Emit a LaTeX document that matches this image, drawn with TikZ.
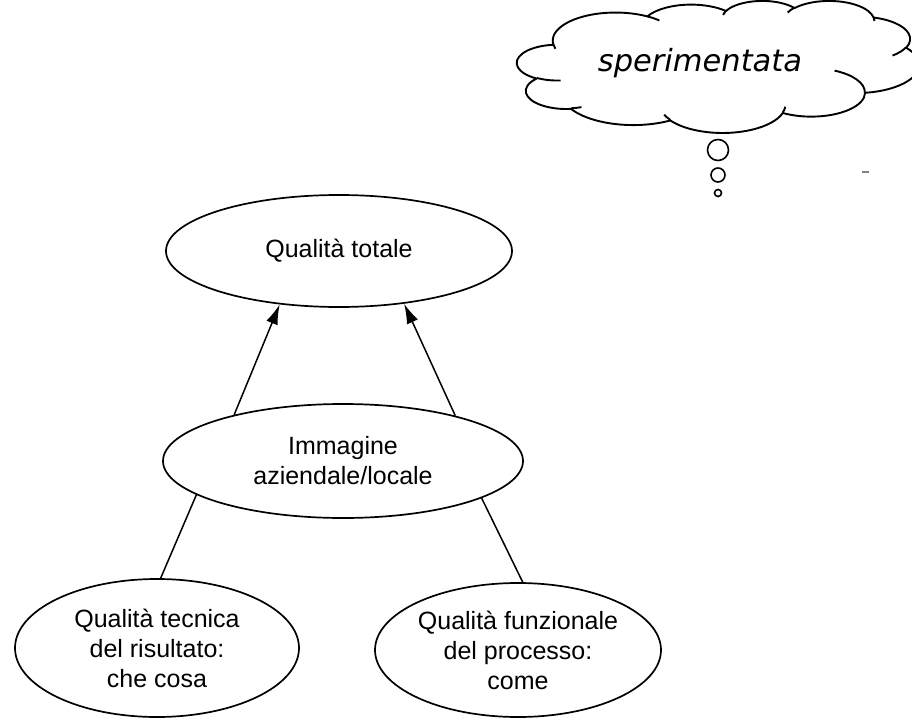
\documentclass[tikz,border=0pt]{standalone}
\usepackage{fontspec}
\setmainfont{Liberation Sans}
\newfontfamily\thoughtfont{DejaVu Sans}
\usetikzlibrary{shapes.geometric,arrows.meta}

% One puff of the cloud outline: elliptical arc with radii #1,#2, starting at
% the point seen at angle #3 from its centre and sweeping #4 degrees.
\newcommand\puffarc[4]{%
  arc[start angle={atan2((#1)*sin(#3),(#2)*cos(#3))},
      delta angle={mod(atan2((#1)*sin((#3)+(#4)),(#2)*cos((#3)+(#4)))
                   -atan2((#1)*sin(#3),(#2)*cos(#3))+720,360)},
      x radius=#1, y radius=#2]}

\tikzset{
  quality/.style={ellipse, draw, line width=1.7pt, inner sep=0pt,
    align=center, font=\fontsize{25}{30}\selectfont},
  link/.style={line width=1.5pt},
  uplink/.style={link, -{Latex[length=20pt,width=12pt]}},
  puff/.style={circle, draw, line width=1.6pt, inner sep=0pt},
  cloudline/.style={line width=1.9pt, line join=round}
}

\begin{document}
\begin{tikzpicture}[x=1pt,y=-1pt]
  \useasboundingbox (0,0) rectangle (912,722);

  % thought cloud, outline and inner folds
  \begin{scope}[shift={(517,0.5)}, x=0.9306pt, y=-0.30556pt]
    \draw[cloudline] (39,143.7)
      \puffarc{67.53}{91.90}{-190.487}{123.781}
      \puffarc{53.33}{72.67}{-144.102}{89.945}
      \puffarc{43.65}{59.45}{-145.808}{99.723}
      \puffarc{48.57}{65.95}{-130.986}{117.242}
      \puffarc{53.33}{72.73}{-78.709}{109.027}
      \puffarc{67.75}{92.20}{-46.267}{130.269}
      \puffarc{57.85}{78.67}{0.625}{114.033}
      \puffarc{67.52}{92.15}{22.452}{115.173}
      \puffarc{77.20}{105.43}{66.243}{75.711}
      \puffarc{43.60}{59.18}{-274.942}{146.736}
      \puffarc{43.45}{59.45}{-246.829}{152.519}
      -- cycle;
    \draw[cloudline]
      (46.93,261.77) \puffarc{43.45}{59.45}{86.742}{26.430}
      (69.28,348.99) \puffarc{43.60}{59.18}{73.610}{11.447}
      (164.78,390.90) \puffarc{67.52}{92.15}{137.624}{14.081}
      (288.27,347.51) \puffarc{67.52}{92.15}{6.453}{15.998}
      (341.29,229.54) \puffarc{57.85}{78.67}{-70.292}{70.917}
      (417.98,153.54) \puffarc{53.33}{72.73}{30.318}{27.752}
      (383.24,54.26) \puffarc{48.57}{65.95}{-13.744}{14.859}
      (290.78,39.52) \puffarc{48.57}{65.95}{-149.181}{18.195}
      (221.41,47.20) \puffarc{43.65}{59.45}{-163.494}{17.686}
      (140.00,51.92) \puffarc{67.53}{91.90}{-66.707}{12.319}
      (41.27,157.89) \puffarc{67.53}{91.90}{157.654}{11.858};
  \end{scope}
  \node[font=\thoughtfont\itshape\fontsize{30.5}{36}\selectfont]
        (thought) at (700,63) {sperimentata};
  \node[puff, minimum size=21pt] (b1) at (718,150) {};
  \node[puff, minimum size=14pt] (b2) at (718,175) {};
  \node[puff, minimum size=7pt]  (b3) at (718,193) {};
  \coordinate (d1) at (862,172);
  \coordinate (d2) at (869,172);
  \draw[gray, line width=2pt] (d1) -- (d2);

  % quality ellipses
  \node[quality, minimum width=346pt, minimum height=112pt] (tot) at (339,251)
    {Qualità totale};
  \node[quality, minimum width=360pt, minimum height=114pt] (img) at (343,461)
    {Immagine\\aziendale/locale};
  \node[quality, minimum width=284pt, minimum height=138pt] (tec) at (157,648)
    {Qualità tecnica\\del risultato:\\che cosa};
  \node[quality, minimum width=286pt, minimum height=134pt] (fun) at (518,650)
    {Qualità funzionale\\del processo:\\come};

  % connectors
  \draw[uplink] (img.157.5) -- (tot.222.9);
  \draw[uplink] (img.22) -- (tot.321.5);
  \draw[link] (img.193.7) -- (tec.87.5);
  \draw[link] (img.345.6) -- (fun.86.5);
\end{tikzpicture}
\end{document}
